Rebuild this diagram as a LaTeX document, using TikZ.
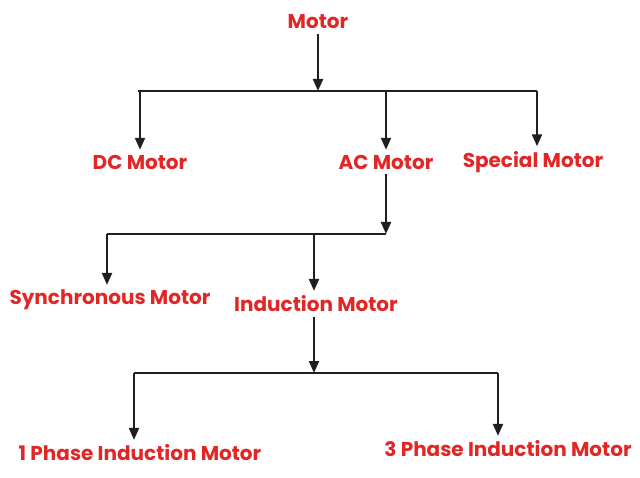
\documentclass[tikz,border=0pt]{standalone}
\usepackage{fontspec}
\setsansfont{Poppins}
\usetikzlibrary{arrows.meta}
\definecolor{motorred}{RGB}{226,38,38}
\definecolor{wire}{RGB}{34,30,30}

\tikzset{
  lbl/.style={font=\sffamily\bfseries\fontsize{15}{18}\selectfont, text=motorred, inner sep=3pt},
  wirebar/.style={draw=wire, line width=1.6pt},
}

\begin{document}
\begin{tikzpicture}[x=0.75pt, y=-0.75pt, line width=1.6pt, >={Triangle[length=9pt,width=7.5pt]}]
  \useasboundingbox (0,0) rectangle (640,478);
  % level 0
  \node[lbl] (motor) at (318,22) {Motor};
  % level 1
  \node[lbl] (dc) at (140,162) {DC Motor};
  \node[lbl] (ac) at (386,162) {AC Motor};
  \node[lbl] (special) at (533,162) {Special Motor};
  % level 2
  \node[lbl] (sync) at (110,300) {Synchronous Motor};
  \node[lbl] (induct) at (316,304) {Induction Motor};
  % level 3
  \node[lbl] (single) at (140,453) {1 Phase Induction Motor};
  \node[lbl] (three) at (508,449) {3 Phase Induction Motor};

  % buses
  \coordinate (busA) at (318,91);
  \coordinate (busAl) at (138,91);
  \coordinate (busAr) at (537,91);
  \coordinate (busB) at (386,234);
  \coordinate (busBl) at (107,234);
  \coordinate (busC) at (314,373);
  \coordinate (busCl) at (134,373);
  \coordinate (busCr) at (498,373);

  \draw[wire, ->] (motor) -- (busA);
  \draw[wirebar] (busAl) -- (busAr);
  \draw[wire, ->] (dc.north |- busA) -- (dc);
  \draw[wire, ->] (ac.north |- busA) -- (ac);
  \draw[wire, ->] (busAr) -- (busAr |- special.north);

  \draw[wire, ->] (ac) -- (busB);
  \draw[wirebar] (busBl) -- (busB);
  \draw[wire, ->] (busBl) -- (busBl |- sync.north);
  \draw[wire, ->] (busB -| busC) -- (busC |- induct.north);

  \draw[wire, ->] (busC |- induct.south) -- (busC);
  \draw[wirebar] (busCl) -- (busCr);
  \draw[wire, ->] (busCl) -- (busCl |- single.north);
  \draw[wire, ->] (busCr) -- (busCr |- three.north);
\end{tikzpicture}
\end{document}
